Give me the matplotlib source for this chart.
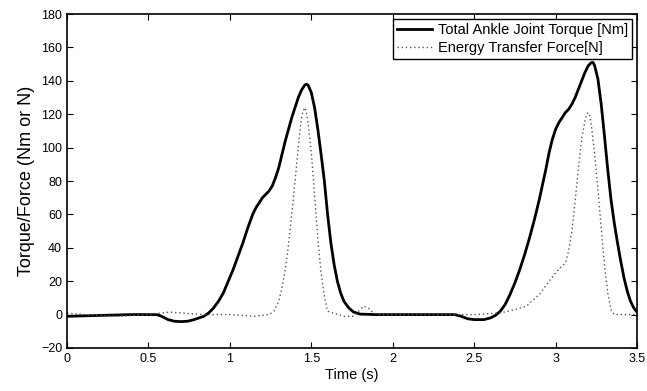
import numpy as np
import matplotlib
matplotlib.use("Agg")
import matplotlib.pyplot as plt

plt.rcParams['font.family'] = ['Liberation Sans', 'DejaVu Sans']

# Total ankle joint torque [Nm]
t_torque = [0.0, 0.2, 0.4, 0.55, 0.58, 0.62, 0.66, 0.7, 0.74, 0.78,
            0.81, 0.84, 0.87, 0.9, 0.93, 0.96, 0.99, 1.02, 1.05, 1.08,
            1.11, 1.14, 1.16, 1.18, 1.2, 1.22, 1.24, 1.26, 1.28, 1.3,
            1.32, 1.34, 1.36, 1.38, 1.4, 1.42, 1.44, 1.46, 1.47, 1.48,
            1.5, 1.52, 1.54, 1.56, 1.58, 1.6, 1.62, 1.64, 1.66, 1.68,
            1.7, 1.73, 1.76, 1.8, 1.9, 2.1, 2.3, 2.38, 2.42, 2.46,
            2.5, 2.56, 2.6, 2.63, 2.66, 2.69, 2.72, 2.75, 2.78, 2.81,
            2.84, 2.87, 2.9, 2.92, 2.94, 2.96, 2.98, 3.0, 3.02, 3.04,
            3.06, 3.08, 3.1, 3.12, 3.14, 3.16, 3.18, 3.2, 3.22, 3.23,
            3.24, 3.26, 3.28, 3.3, 3.32, 3.34, 3.36, 3.38, 3.4, 3.42,
            3.44, 3.46, 3.48, 3.5]
torque = [-1, -0.5, 0, 0, -1, -3, -4, -4.2, -4, -3,
          -2, -1, 1, 4, 8, 13, 20, 27, 35, 43,
          52, 60, 64, 67, 70, 72, 74, 77, 82, 88,
          96, 104, 111, 118, 124, 130, 134.5, 137.5, 138, 137.5,
          133, 124, 111, 96, 80, 60, 43, 30, 20, 13,
          8, 4, 1.5, 0.3, 0, 0, 0, 0, -1, -2.5,
          -3, -3, -2, -0.5, 2, 6, 12, 19, 27, 36,
          46, 57, 69, 78, 87, 97, 105, 111, 115, 118,
          121, 123, 126, 130, 135, 140, 145, 149, 151, 151,
          149, 141, 126, 107, 87, 69, 55, 43, 32, 22,
          14, 8, 4, 1.5]

# Energy transfer force [N]
t_force = [0.0, 0.1, 0.3, 0.5, 0.58, 0.63, 0.7, 0.76, 0.85, 1.0,
           1.15, 1.24, 1.27, 1.3, 1.32, 1.34, 1.36, 1.38, 1.4, 1.42,
           1.43, 1.44, 1.45, 1.46, 1.47, 1.48, 1.5, 1.52, 1.54, 1.56,
           1.58, 1.6, 1.7, 1.76, 1.79, 1.82, 1.85, 1.88, 1.92, 2.1,
           2.3, 2.5, 2.66, 2.75, 2.82, 2.9, 2.96, 3.0, 3.03, 3.06,
           3.08, 3.1, 3.12, 3.14, 3.16, 3.18, 3.19, 3.2, 3.21, 3.22,
           3.24, 3.26, 3.28, 3.3, 3.32, 3.34, 3.36, 3.5]
force = [1, 0, -1, 0, 1, 1.5, 1, 0.5, 0, 0,
         -1, 0, 2, 8, 16, 27, 42, 60, 80, 100,
         110, 118, 122, 124, 121, 115, 97, 72, 45, 25,
         11, 2, -1, -1, 2, 5, 4, 1, 0, 0,
         0, 0, 1, 3, 5, 12, 20, 25, 28, 31,
         38, 50, 68, 88, 105, 116, 120, 121, 119, 113,
         96, 75, 52, 30, 13, 3, 0, 0]

fig = plt.figure(figsize=(6.47, 3.91), dpi=100)
ax = fig.add_axes([0.1036, 0.110, 0.881, 0.854])

ax.plot(t_torque, torque, color='black', lw=2.0, solid_joinstyle='round',
        label='Total Ankle Joint Torque [Nm]')
ax.plot(t_force, force, color='#555555', lw=1.0, linestyle=(0, (1, 2)),
        label='Energy Transfer Force[N]')

ax.set_xlim(0, 3.5)
ax.set_ylim(-20, 180)
ax.set_xticks(np.arange(0, 3.51, 0.5))
ax.set_xticklabels(['0', '0.5', '1', '1.5', '2', '2.5', '3', '3.5'])
ax.set_yticks(np.arange(-20, 181, 20))
ax.tick_params(direction='in', top=True, right=True, length=4, labelsize=9)
for s in ax.spines.values():
    s.set_linewidth(1.2)

ax.set_xlabel('Time (s)', fontsize=10.5, labelpad=2)
ax.set_ylabel('Torque/Force (Nm or N)', fontsize=13, labelpad=4)

leg = ax.legend(loc='upper right', bbox_to_anchor=(0.992, 0.985), fontsize=10.5,
                fancybox=False, framealpha=1, edgecolor='black',
                handlelength=2.4, borderpad=0.3, labelspacing=0.25,
                handletextpad=0.4, borderaxespad=0)
leg.get_frame().set_linewidth(1.0)

fig.savefig('out.png', dpi=100)
